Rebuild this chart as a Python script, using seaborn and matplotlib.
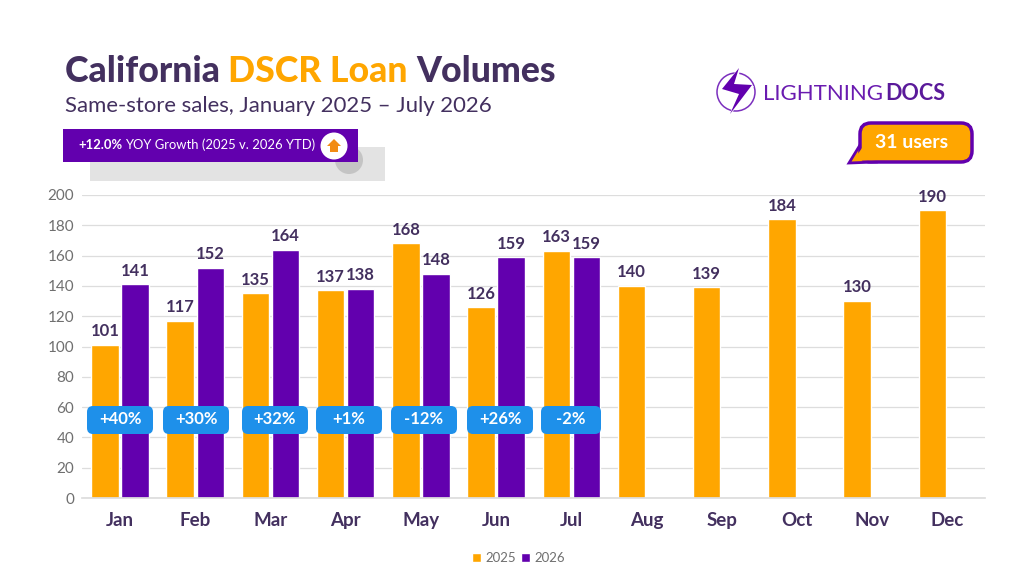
import numpy as np
import pandas as pd
import matplotlib
matplotlib.use("Agg")
import matplotlib.pyplot as plt
from matplotlib.patches import FancyBboxPatch, Rectangle, Circle, Polygon
import seaborn as sns

months = ["Jan","Feb","Mar","Apr","May","Jun","Jul","Aug","Sep","Oct","Nov","Dec"]
v2025 = [101,117,135,137,168,126,163,140,139,184,130,190]
v2026 = [141,152,164,138,148,159,159,np.nan,np.nan,np.nan,np.nan,np.nan]
changes = ["+40%","+30%","+32%","+1%","-12%","+26%","-2%"]
pill_x = [120,196,275,349,424,500,571]
yticks = list(range(0,201,20))

ORANGE="#FFA600"; PURPLE="#6200AE"; DARK="#43305F"; BLUE="#1E90EA"
sns.set_theme(style="white")
plt.rcParams['font.family']=['Lato','DejaVu Sans']

df = pd.DataFrame({"month":months*2,"value":v2025+v2026,"year":["2025"]*12+["2026"]*12})
fig = plt.figure(figsize=(10.24,5.76),dpi=100,facecolor="white")
ax = fig.add_axes([82.4/1024,1-498/576,(985-82.4)/1024,303/576])
sns.barplot(data=df,x="month",y="value",hue="year",palette=[ORANGE,PURPLE],width=0.8,gap=0.09,
            saturation=1,ax=ax,legend=True)
ax.set_xlim(-0.5,11.5); ax.set_ylim(0,200)
ax.set_yticks(yticks)
ax.set_xlabel(""); ax.set_ylabel("")
ax.yaxis.grid(True,color="#DDDDDD",lw=0.9); ax.set_axisbelow(True)
sns.despine(ax=ax,left=True,bottom=False)
ax.spines['bottom'].set_color("#DDDDDD")
ax.tick_params(axis='y',length=0,labelsize=11,labelcolor="#6F6F6F",pad=6)
ax.tick_params(axis='x',length=0,labelsize=13.5,labelcolor=DARK,pad=10)
for t in ax.get_xticklabels(): t.set_fontweight("bold")
for c in ax.containers:
    labels=["" if np.isnan(x) else f"{x:.0f}" for x in c.datavalues]
    ax.bar_label(c,labels=labels,padding=4,fontsize=12,fontweight="bold",color=DARK)
ax.legend(loc="center",bbox_to_anchor=(518.5/1024,1-558/576),bbox_transform=fig.transFigure,ncol=2,frameon=False,
          fontsize=9.5,labelcolor="#6F6F6F",handlelength=0.65,handleheight=0.65,handletextpad=0.35,columnspacing=0.4)

ov = fig.add_axes([0,0,1,1],facecolor="none",zorder=5)
ov.set_xlim(0,1024); ov.set_ylim(576,0); ov.axis("off")
def rr(x0,y0,x1,y1,r,fc,ec="none",lw=0,z=2):
    p=FancyBboxPatch((x0+r,y0+r),x1-x0-2*r,y1-y0-2*r,boxstyle=f"round,pad={r},rounding_size={r}",fc=fc,ec=ec,lw=lw,zorder=z)
    ov.add_patch(p)

r=fig.canvas.get_renderer()
x=65
for s,col in [("California ",DARK),("DSCR Loan ",ORANGE),("Volumes",DARK)]:
    t=ov.text(x,71,s.replace(" ","\u00a0"),fontsize=25.7,fontweight="black",color=col,va="center",ha="left")
    x=t.get_window_extent(r).x1
ov.text(65,105.5,"Same-store sales, January 2025 – July 2026",fontsize=15.9,color=DARK,va="center",ha="left")

ov.add_patch(Rectangle((90,147),295,34,fc="#E3E3E3",ec="none",zorder=1))
ov.add_patch(Circle((349,160),14,fc="#C4C4C4",ec="none",zorder=1.5))
ov.add_patch(Rectangle((63,129),295,33,fc=PURPLE,ec="none",zorder=2))
t1=ov.text(78,145,"+12.0%",fontsize=9.4,fontweight="bold",color="white",va="center",zorder=3)
t2=ov.text(t1.get_window_extent(r).x1+3,145,"YOY Growth (2025 v. 2026 YTD)",fontsize=9.4,color="white",va="center",zorder=3)
ov.add_patch(Circle((334,146),13.5,fc="white",ec="none",zorder=3))
ov.add_patch(Polygon([(334,139),(341,146),(338,146),(338,152),(330,152),(330,146),(327,146)],fc="#F28C14",ec="none",zorder=4))

ov.add_patch(Circle((736,92),19,fc="none",ec="#7B2FBE",lw=1.1,zorder=2))
ov.add_patch(Polygon([(740,66),(719,92),(738,92),(729,116),(754,86),(738,86)],fc="white",ec="none",zorder=2.5))
ov.add_patch(Polygon([(739,68),(722,89),(739,94),(730,114),(752,85),(734,84)],fc=PURPLE,ec="none",zorder=3))
t=ov.text(763,94,"LIGHTNING",fontsize=16,color="#6A1BB0",va="center",zorder=3)
ov.text(885,94,"DOCS",fontsize=15.5,fontweight="bold",color="#5A1A9A",va="center",zorder=3)

ov.add_patch(Polygon([(860,145),(849,163),(875,162)],fc=ORANGE,ec=PURPLE,lw=2,zorder=2))
rr(860,123,972,162,11,ORANGE,ec=PURPLE,lw=2.5,z=2.2)
ov.add_patch(Polygon([(862,148),(853,161),(876,160)],fc=ORANGE,ec="none",zorder=2.5))
ov.text(912,142,"31 users",fontsize=14,fontweight="bold",color="white",ha="center",va="center",zorder=3)

for xc,s in zip(pill_x,changes):
    w=33 if xc!=571 else 30
    rr(xc-w,406,xc+w,434,6,BLUE)
    ov.text(xc,419,s,fontsize=12,fontweight="bold",color="white",ha="center",va="center",zorder=3)

fig.savefig("out.png",dpi=100,facecolor="white")
